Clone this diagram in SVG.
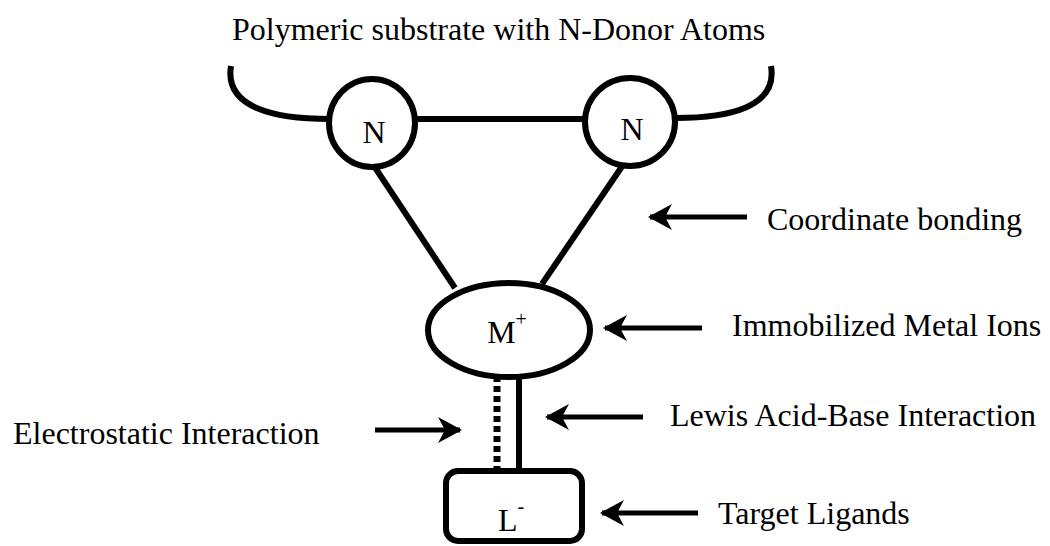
<svg xmlns="http://www.w3.org/2000/svg" width="1050" height="546" viewBox="0 0 1050 546">
<style>
text{font-family:"Liberation Serif","Times New Roman",serif;fill:#000}
.lbl{font-size:32px}
.atom{font-size:32px;text-anchor:middle}
.sup{font-size:20px}
.bond{stroke:#000;stroke-width:6;fill:none}
.shape{stroke:#000;stroke-width:6;fill:#fff}
.arr{stroke:#000;stroke-width:5;fill:none;marker-end:url(#ah)}
</style>
<defs>
<marker id="ah" viewBox="-26 -14 28 28" refX="0" refY="0" markerWidth="28" markerHeight="28" markerUnits="userSpaceOnUse" orient="auto">
<path d="M2,0 L-22,-13 L-15,0 L-22,13 Z" fill="#000"/>
</marker>
</defs>
<rect width="1050" height="546" fill="#fff"/>
<text class="lbl" x="232" y="40">Polymeric substrate with N-Donor Atoms</text>
<g id="connectors">
<path class="bond" d="M231,66 C224,108 275,119 330,119"/>
<path class="bond" d="M771,66 C778,108 727,118 676,118"/>
<line class="bond" x1="414" y1="119" x2="587" y2="119"/>
<line class="bond" x1="374" y1="166" x2="455" y2="288"/>
<line class="bond" x1="623" y1="165" x2="542" y2="284"/>
<line x1="497" y1="376" x2="497" y2="472" stroke="#000" stroke-width="7" stroke-dasharray="6 4"/>
<line class="bond" x1="519" y1="376" x2="519" y2="472"/>
<line class="arr" x1="747" y1="217" x2="650" y2="217"/>
<line class="arr" x1="702" y1="328" x2="605" y2="328"/>
<line class="arr" x1="643" y1="417" x2="547" y2="417"/>
<line class="arr" x1="698" y1="513" x2="602" y2="513"/>
<line class="arr" x1="375" y1="430" x2="460" y2="430"/>
</g>
<g id="n1">
<ellipse class="shape" cx="372" cy="123" rx="43" ry="44"/>
<text class="atom" x="374" y="143">N</text>
</g>
<g id="n2">
<ellipse class="shape" cx="630" cy="122" rx="45" ry="44"/>
<text class="atom" x="632" y="140">N</text>
</g>
<g id="metal">
<ellipse class="shape" cx="509" cy="330" rx="81" ry="47"/>
<text class="atom" x="507" y="343">M<tspan class="sup" dy="-17">+</tspan></text>
</g>
<g id="ligand">
<rect class="shape" x="446" y="471" width="136" height="70" rx="12"/>
<text class="atom" x="511" y="531">L<tspan class="sup" dy="-18">-</tspan></text>
</g>
<g id="labels">
<text class="lbl" x="767" y="230">Coordinate bonding</text>
<text class="lbl" x="732" y="336">Immobilized Metal Ions</text>
<text class="lbl" x="670" y="426">Lewis Acid-Base Interaction</text>
<text class="lbl" x="718" y="524">Target Ligands</text>
<text class="lbl" x="13" y="444">Electrostatic Interaction</text>
</g>
</svg>
